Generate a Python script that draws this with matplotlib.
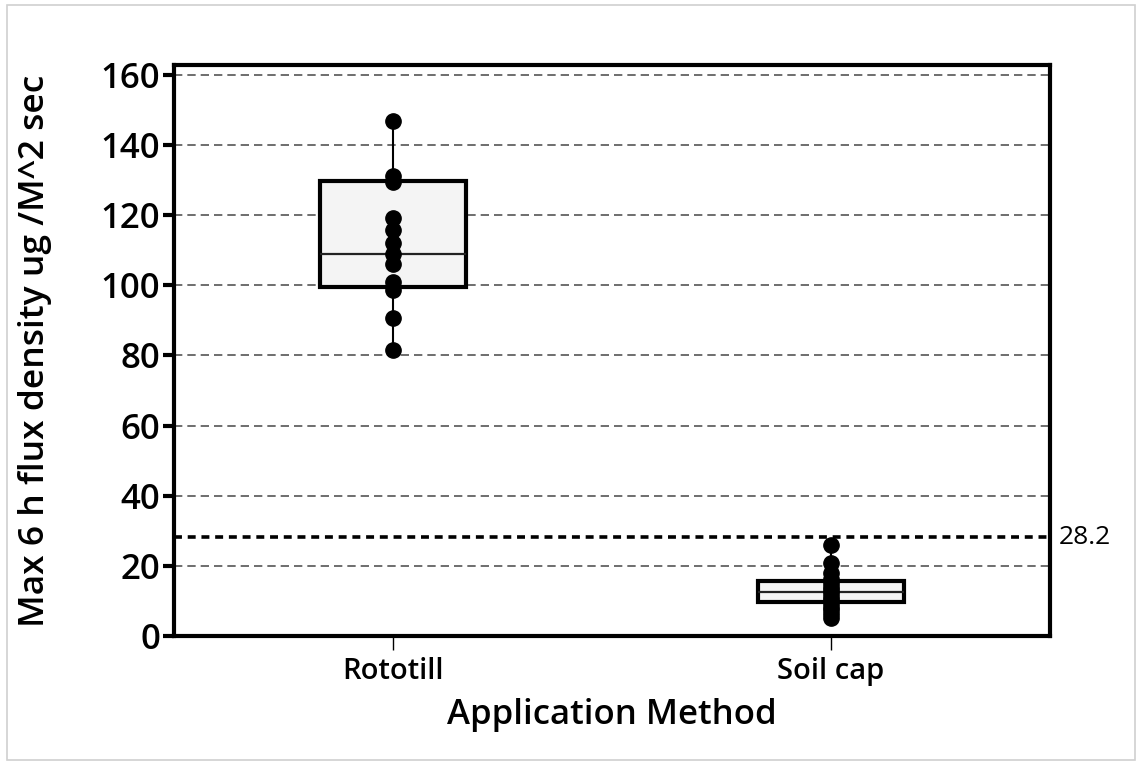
import matplotlib
matplotlib.use('Agg')
import matplotlib.pyplot as plt
import matplotlib.patches as mpatches

plt.rcParams['font.family'] = ['Open Sans', 'DejaVu Sans']

methods = ['Rototill', 'Soil cap']
rototill = [147.0, 131.2, 129.6, 119.2, 115.8, 112.2, 109.0, 106.1, 101.1, 98.7, 90.6, 81.6]
soilcap = [26.0, 20.7, 17.9, 16.3, 15.0, 14.0, 13.0, 12.2, 11.2, 10.3, 9.4, 8.4, 7.4, 6.3, 5.0]
# box summaries
q1 = [99.4, 9.8]
median = [108.9, 12.6]
q3 = [129.9, 15.7]
threshold = 28.2
yticks = [0, 20, 40, 60, 80, 100, 120, 140, 160]

fig = plt.figure(figsize=(11.42, 7.65), dpi=100)
ax = fig.add_axes([174/1142, 1-636/765, (1050-174)/1142, (636-65)/765])

# light frame round the figure
fig.patches.append(mpatches.Rectangle((7/1142, 5/765), 1128/1142, 755/765,
                   transform=fig.transFigure, fill=False, edgecolor='#d0d0d0', lw=1.2))

for y in yticks[1:]:
    ax.axhline(y, color='#555555', lw=1.2, ls=(0, (5, 3)), zorder=1)

stats = []
for i, vals in enumerate([rototill, soilcap]):
    stats.append(dict(label=methods[i], q1=q1[i], med=median[i], q3=q3[i],
                      whislo=min(vals), whishi=max(vals), fliers=[]))
bp = ax.bxp(stats, positions=[0, 1], widths=0.335, patch_artist=True,
            showcaps=False, showfliers=False, zorder=2)
for b in bp['boxes']:
    b.set_facecolor('#f4f4f4')
    b.set_edgecolor('black')
    b.set_linewidth(3)
for m in bp['medians']:
    m.set_color('#222222')
    m.set_linewidth(1.6)
for w in bp['whiskers']:
    w.set_color('black')
    w.set_linewidth(1.5)

for i, vals in enumerate([rototill, soilcap]):
    ax.plot([i] * len(vals), vals, 'o', color='black', ms=11, zorder=4)

ax.axhline(threshold, color='black', lw=2.6, ls=(0, (2.2, 1.6)), zorder=3)
ax.text(1.52, threshold, '%.1f' % threshold, va='center', ha='left', fontsize=19)

ax.set_xlim(-0.5, 1.5)
ax.set_ylim(0, 162.85)
ax.set_yticks(yticks)
ax.set_xticks([0, 1])
ax.set_xticklabels(methods, fontsize=21, fontweight='semibold')
ax.set_yticklabels([str(t) for t in yticks], fontsize=25, fontweight='semibold')
ax.tick_params(axis='y', length=8, width=3, pad=2)
ax.tick_params(axis='x', length=10, width=1, pad=5)
for s in ax.spines.values():
    s.set_linewidth(3)

ax.set_xlabel('Application Method', fontsize=25, fontweight='semibold', labelpad=9)
ax.set_ylabel('Max 6 h flux density ug /M^2 sec', fontsize=25.5, fontweight='semibold', labelpad=35)

fig.savefig('out.png', dpi=100)
